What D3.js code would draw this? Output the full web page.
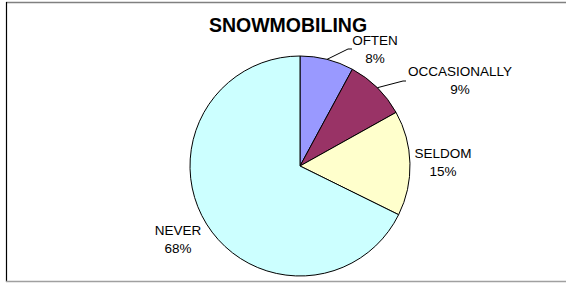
<!DOCTYPE html>
<html>
<head>
<meta charset="utf-8">
<script src="https://cdn.jsdelivr.net/npm/d3@7"></script>
<style>
  body { margin: 0; background: #fff; }
  text { font-family: Arial, "Liberation Sans", sans-serif; fill: #000; }
</style>
</head>
<body>
<div id="chart"></div>
<script>
var categories = ["OFTEN", "OCCASIONALLY", "SELDOM", "NEVER"];
var values = [7.9, 9.0, 15.4, 67.7];
var colours = ["#9999FF", "#993366", "#FFFFCC", "#CCFFFF"];

var width = 566, height = 283;
var cx = 300, cy = 166, radius = 110;

// label placement, one per slice (centre x, first baseline y, leader elbow)
var labelLayout = [
    { x: 375, y: 45, elbow: [348, 49], end: [352, 49] },
    { x: 460, y: 76, elbow: [403, 81], end: [406, 81] },
    { x: 443, y: 158 },
    { x: 178, y: 235 }
];

var svg = d3.select("#chart")
    .append("svg")
    .attr("width", width)
    .attr("height", height);

// frame
svg.append("line").attr("x1", 6).attr("y1", 2.5).attr("x2", width).attr("y2", 2.5)
    .attr("stroke", "#808080").attr("stroke-width", 1.5);
svg.append("line").attr("x1", 6.5).attr("y1", 2).attr("x2", 6.5).attr("y2", 282)
    .attr("stroke", "#000").attr("stroke-width", 1.2);
svg.append("line").attr("x1", 6).attr("y1", 281.5).attr("x2", width).attr("y2", 281.5)
    .attr("stroke", "#a0a0a0").attr("stroke-width", 1.5);

svg.append("text")
    .attr("x", 288)
    .attr("y", 32)
    .attr("text-anchor", "middle")
    .attr("font-size", 19.5)
    .attr("font-weight", "bold")
    .text("SNOWMOBILING");

var total = d3.sum(values);
var slices = categories.map((c, i) => ({ name: c, value: values[i], colour: colours[i] }));

var pie = d3.pie().sort(null).value(d => d.value);
var arc = d3.arc().innerRadius(0).outerRadius(radius);
var arcs = pie(slices);

var g = svg.append("g").attr("transform", `translate(${cx},${cy})`);

g.selectAll("path")
    .data(arcs)
    .enter().append("path")
    .attr("d", arc)
    .attr("fill", d => d.data.colour)
    .attr("stroke", "#000")
    .attr("stroke-width", 1);

// leader lines
arcs.forEach(function (d, i) {
    var lay = labelLayout[i];
    if (!lay.elbow) return;
    var a = (d.startAngle + d.endAngle) / 2;
    var sx = cx + Math.sin(a) * radius, sy = cy - Math.cos(a) * radius;
    svg.append("polyline")
        .attr("points", [[sx, sy], lay.elbow, lay.end].map(p => p.join(",")).join(" "))
        .attr("fill", "none")
        .attr("stroke", "#000")
        .attr("stroke-width", 1);
});

var labels = svg.append("g").selectAll("text")
    .data(arcs)
    .enter().append("text")
    .attr("text-anchor", "middle")
    .attr("font-size", 13.5)
    .attr("x", (d, i) => labelLayout[i].x)
    .attr("y", (d, i) => labelLayout[i].y);

labels.append("tspan")
    .attr("x", (d, i) => labelLayout[i].x)
    .text(d => d.data.name);
labels.append("tspan")
    .attr("x", (d, i) => labelLayout[i].x)
    .attr("dy", 17.5)
    .text(d => Math.round(d.data.value / total * 100) + "%");
</script>
</body>
</html>
